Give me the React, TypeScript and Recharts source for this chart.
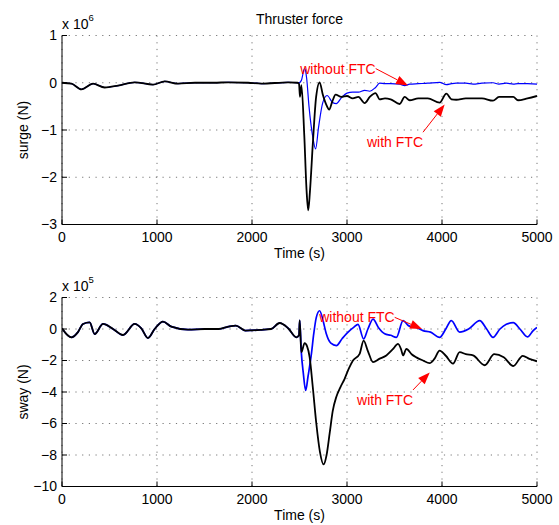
import React from 'react';
import { LineChart, Line, XAxis, YAxis, CartesianGrid, ReferenceLine } from 'recharts';

const FONT = '"Liberation Sans", Arial, Helvetica, sans-serif';

// axis ticks
const timeTicks = [0, 1000, 2000, 3000, 4000, 5000];
const surgeTicks = [-3, -2, -1, 0, 1];
const swayTicks = [-10, -8, -6, -4, -2, 0, 2];

// surge (x 10^6 N), before the fault both runs are the same
const surgePreTime = [0, 100, 204, 327, 449, 590, 765, 958, 1081, 1221, 1400, 1600, 1750, 1960, 2100, 2380, 2480];
const surgePre = [0, -0.02, -0.14, -0.02, -0.1, -0.06, 0.01, -0.04, 0.03, -0.02, 0, 0, 0.01, 0, -0.02, 0.01, 0];

const surgeWithTime = [2495, 2505, 2520, 2550, 2575, 2592, 2610, 2640, 2675, 2712, 2745, 2790, 2812, 2845, 2880, 2940, 3000, 3060, 3120, 3186, 3240, 3300, 3344, 3400, 3460, 3555, 3607, 3660, 3750, 3850, 3975, 4046, 4100, 4150, 4250, 4327, 4420, 4537, 4600, 4677, 4750, 4800, 4900, 5000];
const surgeWith = [-0.02, -0.3, -0.05, -1.1, -2.3, -2.7, -2.3, -1.3, -0.3, 0.01, -0.25, -0.5, -0.57, -0.4, -0.25, -0.3, -0.28, -0.33, -0.3, -0.43, -0.3, -0.22, -0.35, -0.33, -0.35, -0.45, -0.3, -0.37, -0.33, -0.33, -0.42, -0.23, -0.35, -0.36, -0.33, -0.33, -0.33, -0.38, -0.3, -0.3, -0.3, -0.37, -0.33, -0.28];

const surgeWithoutTime = [2495, 2520, 2540, 2555, 2575, 2600, 2640, 2670, 2700, 2745, 2790, 2850, 2888, 2940, 3000, 3060, 3120, 3186, 3240, 3300, 3344, 3400, 3460, 3555, 3607, 3660, 3750, 3850, 3975, 4046, 4100, 4150, 4250, 4327, 4420, 4537, 4600, 4677, 4750, 4800, 4900, 5000];
const surgeWithout = [0, 0.05, 0.22, 0.3, 0.1, -0.5, -1.15, -1.4, -0.95, -0.42, -0.27, -0.42, -0.44, -0.32, -0.22, -0.2, -0.2, -0.16, -0.18, -0.1, -0.01, -0.02, -0.02, -0.03, -0.06, -0.03, -0.02, -0.01, 0.01, -0.04, -0.02, -0.01, -0.01, -0.03, -0.01, 0, -0.03, -0.01, -0.03, -0.02, -0.02, -0.03];

// sway (x 10^5 N)
const swayPreTime = [0, 98, 168, 221, 291, 344, 432, 537, 642, 765, 835, 905, 975, 1063, 1151, 1326, 1502, 1650, 1750, 1830, 1930, 2100, 2200, 2291, 2380, 2467];
const swayPre = [0.04, -0.53, -0.2, 0.32, 0.42, -0.32, 0.32, 0, -0.38, 0.32, 0.04, -0.57, 0, 0.47, 0.15, -0.04, 0, 0, 0.15, 0.22, -0.1, -0.05, 0, 0.38, 0.05, -0.53];

const swayWithTime = [2495, 2502, 2519, 2554, 2580, 2607, 2640, 2677, 2715, 2754, 2785, 2818, 2850, 2888, 2930, 2975, 3020, 3063, 3133, 3175, 3220, 3274, 3340, 3414, 3480, 3537, 3570, 3590, 3625, 3680, 3730, 3800, 3870, 3920, 3975, 4040, 4116, 4186, 4250, 4327, 4450, 4550, 4650, 4750, 4850, 4920, 5000];
const swayWith = [-0.4, 0.55, -1.47, -0.9, -1.1, -1.8, -3.7, -6.0, -7.8, -8.6, -8.0, -6.6, -5.2, -4.3, -3.7, -3.16, -2.5, -2.0, -1.58, -0.74, -1.4, -2.1, -1.9, -1.68, -1.3, -0.95, -1.3, -1.68, -1.26, -1.6, -1.8, -2.0, -2.17, -1.9, -1.37, -1.7, -2.2, -1.47, -1.6, -1.68, -2.3, -1.6, -1.8, -2.35, -1.7, -1.9, -2.05];

const swayWithoutTime = [2495, 2502, 2519, 2540, 2565, 2590, 2625, 2650, 2677, 2712, 2745, 2782, 2830, 2888, 2950, 3028, 3070, 3116, 3175, 3220, 3274, 3330, 3397, 3460, 3520, 3590, 3650, 3730, 3800, 3880, 3975, 4040, 4098, 4186, 4280, 4397, 4470, 4537, 4610, 4677, 4750, 4820, 4900, 4960, 5000];
const swayWithout = [-0.4, 0.55, -1.47, -2.8, -3.9, -3.0, -1.6, -0.3, 0.74, 1.16, 0.6, -0.3, -0.9, -1.05, -0.6, -0.1, 0.1, 0.3, -0.63, 0.0, 0.63, 0.1, -0.3, -0.4, -0.53, 0.53, 0.2, 0.1, -0.1, -0.2, -0.53, 0.0, 0.53, -0.2, 0.0, 0.53, 0.0, -0.53, 0.0, 0.3, 0.4, 0.0, -0.5, -0.1, 0.1];

type Pt = { t: number; v: number };
const toPoints = (ts: number[], vs: number[]): Pt[] => ts.map((t, i) => ({ t, v: vs[i] }));

const surgeWithData = toPoints([...surgePreTime, ...surgeWithTime], [...surgePre, ...surgeWith]);
const surgeWithoutData = toPoints([...surgePreTime, ...surgeWithoutTime], [...surgePre, ...surgeWithout]);
const swayWithData = toPoints([...swayPreTime, ...swayWithTime], [...swayPre, ...swayWith]);
const swayWithoutData = toPoints([...swayPreTime, ...swayWithoutTime], [...swayPre, ...swayWithout]);

type Note = { text: string; from: [number, number]; to: [number, number]; below: boolean };

const surgeNotes: Note[] = [
  { text: 'without FTC', from: [3302, 0.3], to: [3642, -0.057], below: false },
  { text: 'with FTC', from: [3800, -1.047], to: [4028, -0.46], below: true },
];
const swayNotes: Note[] = [
  { text: 'without FTC', from: [3502, 0.74], to: [3790, 0.0], below: false },
  { text: 'with FTC', from: [3695, -3.87], to: [3871, -2.76], below: true },
];

const fmt = (v: number) => (v < 0 ? `\u2212${-v}` : `${v}`);
const tickStyle = { fill: '#000', fontSize: 14, fontFamily: FONT };

const arrowShape = (text: string, below: boolean) => (p: any) => {
  const { x1, y1, x2, y2 } = p;
  const a = Math.atan2(y2 - y1, x2 - x1);
  const len = 12;
  const hw = 4.5;
  const bx = x2 - len * Math.cos(a);
  const by = y2 - len * Math.sin(a);
  const nx = -Math.sin(a) * hw;
  const ny = Math.cos(a) * hw;
  return (
    <g>
      <line x1={x1} y1={y1} x2={bx} y2={by} stroke="#ff0000" strokeWidth={1} />
      <polygon points={`${x2},${y2} ${bx + nx},${by + ny} ${bx - nx},${by - ny}`} fill="#ff0000" />
      <text x={x1} y={below ? y1 + 15 : y1 + 5} textAnchor="end" fill="#ff0000" fontSize={14} fontFamily={FONT}>
        {text}
      </text>
    </g>
  );
};

type PanelProps = {
  height: number;
  bottom: number;
  yDomain: [number, number];
  yTicks: number[];
  yLabel: string;
  withData: Pt[];
  withoutData: Pt[];
  blueWidth: number;
  notes: Note[];
};

function Panel({ height, bottom, yDomain, yTicks, yLabel, withData, withoutData, blueWidth, notes }: PanelProps) {
  return (
    <LineChart width={559} height={height} margin={{ top: 35.5, right: 22, bottom, left: 12 }}>
      <CartesianGrid stroke="#777" strokeDasharray="1.2 5.5" />
      <XAxis
        dataKey="t"
        type="number"
        domain={[0, 5000]}
        ticks={timeTicks}
        interval={0}
        allowDataOverflow
        height={34}
        tickSize={-5}
        tickMargin={13}
        stroke="#000"
        tick={tickStyle}
        label={{ value: 'Time (s)', position: 'insideBottom', offset: 0.5, fill: '#000', fontSize: 14, fontFamily: FONT }}
      />
      <XAxis
        xAxisId="top"
        orientation="top"
        type="number"
        domain={[0, 5000]}
        ticks={timeTicks}
        interval={0}
        height={0}
        tickSize={-5}
        tickFormatter={() => ''}
        stroke="#000"
      />
      <YAxis
        type="number"
        domain={yDomain}
        ticks={yTicks}
        interval={0}
        allowDataOverflow
        width={50}
        tickSize={-5}
        tickMargin={10}
        tickFormatter={fmt}
        stroke="#000"
        tick={tickStyle}
        label={{
          value: yLabel,
          angle: -90,
          position: 'insideLeft',
          offset: 11,
          style: { textAnchor: 'middle' },
          fill: '#000',
          fontSize: 14,
          fontFamily: FONT,
        }}
      />
      <YAxis
        yAxisId="right"
        orientation="right"
        type="number"
        domain={yDomain}
        ticks={yTicks}
        interval={0}
        width={0}
        tickSize={-5}
        tickFormatter={() => ''}
        stroke="#000"
      />
      <Line data={withoutData} dataKey="v" type="monotone" stroke="#0000ff" strokeWidth={blueWidth} dot={false} isAnimationActive={false} />
      <Line data={withData} dataKey="v" type="monotone" stroke="#000000" strokeWidth={1.8} dot={false} isAnimationActive={false} />
      {notes.map((n) => (
        <ReferenceLine
          key={n.text}
          segment={[
            { x: n.from[0], y: n.from[1] },
            { x: n.to[0], y: n.to[1] },
          ]}
          shape={arrowShape(n.text, n.below)}
        />
      ))}
    </LineChart>
  );
}

export default function App() {
  return (
    <div style={{ position: 'absolute', left: 0, top: 0, width: 559, height: 525, background: '#fff' }}>
      <div style={{ position: 'absolute', left: 0, top: 0 }}>
        <Panel
          height={262}
          bottom={3.5}
          yDomain={[-3, 1]}
          yTicks={surgeTicks}
          yLabel="surge (N)"
          withData={surgeWithData}
          withoutData={surgeWithoutData}
          blueWidth={1.2}
          notes={surgeNotes}
        />
      </div>
      <div style={{ position: 'absolute', left: 0, top: 262 }}>
        <Panel
          height={263}
          bottom={4.5}
          yDomain={[-10, 2]}
          yTicks={swayTicks}
          yLabel="sway (N)"
          withData={swayWithData}
          withoutData={swayWithoutData}
          blueWidth={1.7}
          notes={swayNotes}
        />
      </div>
      <svg width={559} height={525} style={{ position: 'absolute', left: 0, top: 0, pointerEvents: 'none' }}>
        <text x={299.5} y={24} textAnchor="middle" fontSize={14} fontFamily={FONT} fill="#000">
          Thruster force
        </text>
        <text x={62} y={29} fontSize={14} fontFamily={FONT} fill="#000">
          x 10<tspan fontSize={9.5} dy={-8}>6</tspan>
        </text>
        <text x={62} y={291} fontSize={14} fontFamily={FONT} fill="#000">
          x 10<tspan fontSize={9.5} dy={-8}>5</tspan>
        </text>
      </svg>
    </div>
  );
}
